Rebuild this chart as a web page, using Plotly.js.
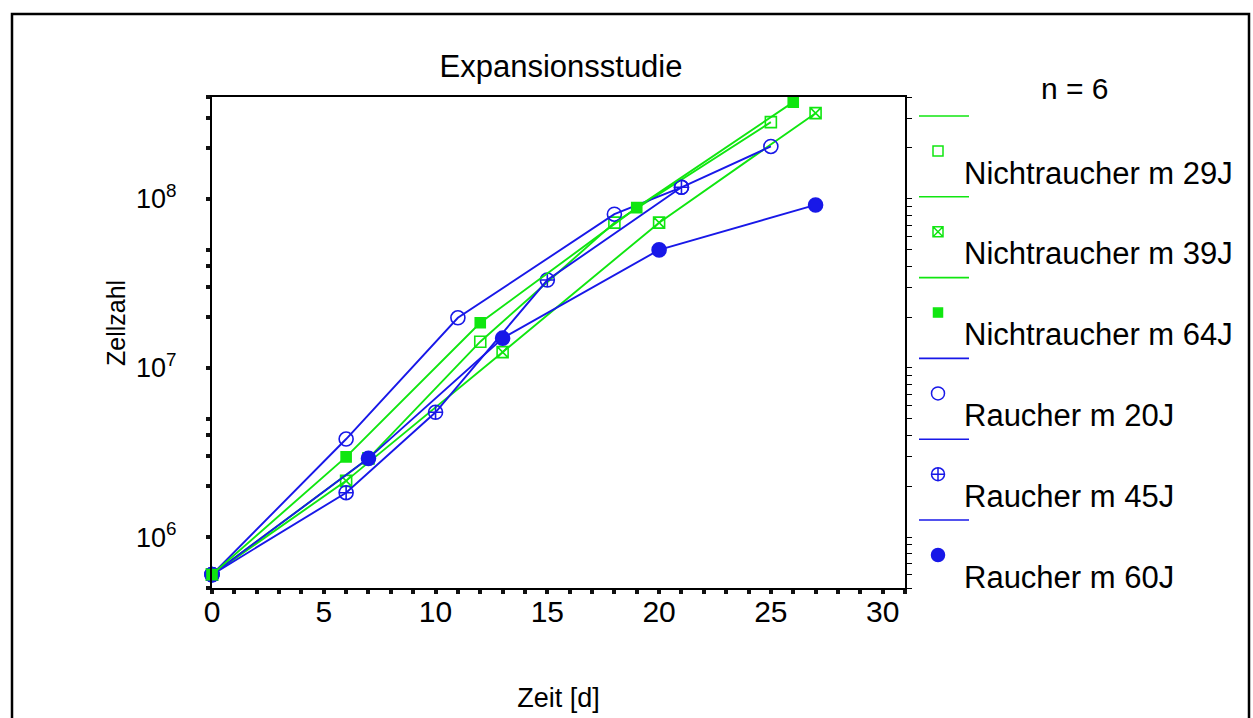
<!DOCTYPE html>
<html>
<head>
<meta charset="utf-8">
<script src="https://cdn.plot.ly/plotly-3.0.1.min.js"></script>
<style>html,body{margin:0;padding:0;background:#fff;}#chart{width:1253px;height:718px;}</style>
</head>
<body>
<div id="chart"></div>
<script>
// ---- data ----
const seriesNames = ["Nichtraucher m 29J", "Nichtraucher m 39J", "Nichtraucher m 64J",
                     "Raucher m 20J", "Raucher m 45J", "Raucher m 60J"];
const days29 = [0, 7, 12, 18, 25];
const cells29 = [6.0e5, 2.92e6, 1.43e7, 7.23e7, 2.84e8];
const days39 = [0, 6, 13, 20, 27];
const cells39 = [6.0e5, 2.15e6, 1.24e7, 7.23e7, 3.21e8];
const days64 = [0, 6, 12, 19, 26];
const cells64 = [6.0e5, 2.98e6, 1.85e7, 8.87e7, 3.73e8];
const days20 = [0, 6, 11, 18, 21, 25];
const cells20 = [6.0e5, 3.80e6, 1.98e7, 8.11e7, 1.17e8, 2.04e8];
const days45 = [0, 6, 10, 15, 21];
const cells45 = [6.0e5, 1.83e6, 5.47e6, 3.31e7, 1.17e8];
const days60 = [0, 7, 13, 20, 27];
const cells60 = [6.0e5, 2.92e6, 1.50e7, 4.99e7, 9.2e7];
const xTickLabels = ["0", "5", "10", "15", "20", "25", "30"];
const yTickValues = [1e6, 1e7, 1e8];
const yTickLabels = ["10<sup>6</sup>", "10<sup>7</sup>", "10<sup>8</sup>"];
const titleText = "Expansionsstudie";
const xTitle = "Zeit [d]";
const yTitle = "Zellzahl";
const legendHeader = "n = 6";

// ---- styles ----
const GREEN = "#10e610";
const BLUE = "#1818e8";
const FONT = "Liberation Sans, Arial, Helvetica, sans-serif";
const seriesX = [days29, days39, days64, days20, days45, days60];
const seriesY = [cells29, cells39, cells64, cells20, cells45, cells60];
const seriesColor = [GREEN, GREEN, GREEN, BLUE, BLUE, BLUE];
const seriesSymbol = ["square-open", "square-x-open", "square", "circle-open", "circle-cross-open", "circle"];
const seriesSize = [11, 11, 10, 14, 14, 14];
const drawOrder = [0, 1, 3, 4, 5, 2];

const W = 1253, H = 718;
const PLOT = {l: 212, r: 905, t: 97, b: 588};

const traces = [];
drawOrder.forEach(i => {
  traces.push({
    type: "scatter", mode: "lines+markers", name: seriesNames[i],
    x: seriesX[i], y: seriesY[i], xaxis: "x", yaxis: "y",
    line: {color: seriesColor[i], width: 1.9},
    marker: {symbol: seriesSymbol[i], size: seriesSize[i], color: seriesColor[i],
             line: {color: seriesColor[i], width: 1.6}},
    showlegend: false, cliponaxis: false
  });
});
// right axis (ticks only)
traces.push({type: "scatter", mode: "markers", x: [days20[0]], y: [cells20[0]], xaxis: "x", yaxis: "y2",
  marker: {opacity: 0}, showlegend: false, hoverinfo: "skip"});

// ---- custom legend (line above, marker, then label) ----
const LEG = {lx0: 919, lx1: 969, mx: 938, lineY: 116, markY: 151, textX: 962, textY: 173, step: 80.8};
const annotations = [];
seriesNames.forEach((nm, i) => {
  const yl = LEG.lineY + LEG.step * i;
  traces.push({type: "scatter", mode: "lines", x: [LEG.lx0, LEG.lx1], y: [yl, yl],
    xaxis: "x2", yaxis: "y3", line: {color: seriesColor[i], width: 1.6}, showlegend: false, hoverinfo: "skip"});
  traces.push({type: "scatter", mode: "markers", x: [LEG.mx], y: [LEG.markY + LEG.step * i],
    xaxis: "x2", yaxis: "y3", showlegend: false, hoverinfo: "skip",
    marker: {symbol: seriesSymbol[i], size: seriesSize[i] - 1, color: seriesColor[i],
             line: {color: seriesColor[i], width: 1.5}}});
  annotations.push({text: nm, xref: "paper", yref: "paper", x: LEG.textX / W, y: 1 - (LEG.textY + LEG.step * i) / H,
    xanchor: "left", yanchor: "middle", showarrow: false, font: {family: FONT, size: 31, color: "#000"}});
});
annotations.push({text: legendHeader, xref: "paper", yref: "paper", x: 1075 / W, y: 1 - 88 / H,
  xanchor: "center", yanchor: "middle", showarrow: false, font: {family: FONT, size: 30, color: "#000"}});
// y axis title (placed as in the reference, slightly above the plot centre)
annotations.push({text: yTitle, xref: "paper", yref: "paper", x: 116 / W, y: 1 - 323 / H, textangle: -90,
  xanchor: "center", yanchor: "middle", showarrow: false, font: {family: FONT, size: 25, color: "#000"}});

// y minor ticks (1..5 x 10^k) and right-axis ticks (1..9 x 10^k)
const yMin = 5e5, yMax = 4e8;
const leftMinor = [], rightTicks = [];
for (let k = 5; k <= 8; k++) {
  for (let m = 1; m <= 9; m++) {
    const v = m * Math.pow(10, k);
    if (v < yMin * 0.999 || v > yMax * 1.001) continue;
    if (m <= 5) leftMinor.push(v);
    rightTicks.push(v);
  }
}

const layout = {
  width: W, height: H,
  margin: {l: 0, r: 0, t: 0, b: 0},
  paper_bgcolor: "#fff", plot_bgcolor: "rgba(0,0,0,0)",
  font: {family: FONT, size: 29, color: "#000"},
  title: {text: titleText, x: 561 / W, xanchor: "center", y: 1 - 66 / H, yanchor: "middle",
          font: {family: FONT, size: 31, color: "#000"}},
  xaxis: {
    domain: [PLOT.l / W, PLOT.r / W], range: [0, 31], anchor: "y",
    tickmode: "array", tickvals: xTickLabels.map(Number), ticktext: xTickLabels,
    ticks: "outside", ticklen: 4, tickwidth: 4, tickcolor: "#111",
    minor: {dtick: 1, tick0: 0, ticks: "outside", ticklen: 4, tickwidth: 4, tickcolor: "#111"},
    showline: true, linecolor: "#000", linewidth: 2, mirror: true,
    showgrid: false, zeroline: false, ticklabelstandoff: -8,
    tickfont: {family: FONT, size: 30},
    title: {text: xTitle, standoff: 61, font: {family: FONT, size: 27}}
  },
  yaxis: {
    domain: [1 - PLOT.b / H, 1 - PLOT.t / H], type: "log", anchor: "x",
    range: [Math.log10(yMin), Math.log10(yMax)],
    tickmode: "array", tickvals: yTickValues, ticktext: yTickLabels,
    ticks: "outside", ticklen: 4, tickwidth: 4, tickcolor: "#111",
    minor: {tickmode: "array", tickvals: leftMinor, ticks: "outside", ticklen: 4, tickwidth: 4, tickcolor: "#111"},
    showline: true, linecolor: "#000", linewidth: 2,
    showgrid: false, zeroline: false, ticklabelstandoff: 24,
    tickfont: {family: FONT, size: 27}
  },
  yaxis2: {
    overlaying: "y", side: "right", anchor: "x", type: "log",
    range: [Math.log10(yMin), Math.log10(yMax)],
    tickmode: "array", tickvals: rightTicks, showticklabels: false,
    ticks: "outside", ticklen: 5, tickwidth: 1, tickcolor: "#000",
    showline: true, linecolor: "#000", linewidth: 2, showgrid: false, zeroline: false
  },
  xaxis2: {domain: [0, 1], range: [0, W], anchor: "y3", visible: false, fixedrange: true},
  yaxis3: {domain: [0, 1], range: [H, 0], anchor: "x2", visible: false, fixedrange: true},
  shapes: [{type: "rect", xref: "paper", yref: "paper", x0: 12 / W, x1: 1249 / W, y0: -0.02, y1: 1 - 14 / H,
            line: {color: "#000", width: 2.5}, fillcolor: "rgba(0,0,0,0)", layer: "above"}],
  annotations: annotations,
  showlegend: false
};

Plotly.newPlot("chart", traces, layout, {displayModeBar: false, staticPlot: true});
</script>
</body>
</html>
